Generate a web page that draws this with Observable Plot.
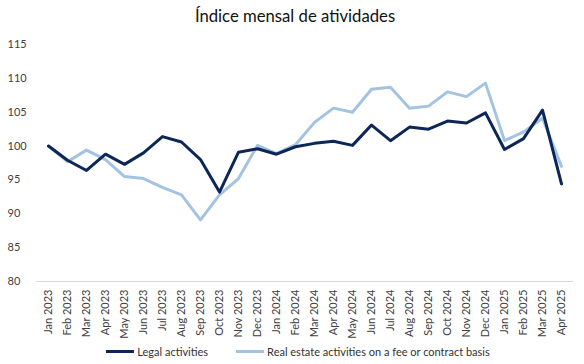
<!DOCTYPE html>
<html>
<head>
<meta charset="utf-8">
<script src="https://cdn.jsdelivr.net/npm/d3@7"></script>
<script src="https://cdn.jsdelivr.net/npm/@observablehq/plot@0.6"></script>
<style>
  body { margin: 0; background: #fff; font-family: Lato, "Noto Sans", sans-serif; }
  #wrap { width: 584px; height: 364px; position: relative; }
  #title { height: 30px; line-height: 32px; text-align: center; font-size: 16.7px; color: #111; padding-left: 6px; }
  #legend { position: absolute; top: 345px; left: 0; width: 584px; display: flex; justify-content: center; gap: 28px; font-size: 11px; color: #333; padding-left: 6px; }
  .item { display: flex; align-items: center; }
  .sw { display: inline-block; width: 28px; height: 3px; margin-right: 3px; }
</style>
</head>
<body>
<div id="wrap">
  <div id="title">Índice mensal de atividades</div>
  <div id="chart"></div>
  <div id="legend"></div>
</div>
<script>
const months = ["Jan 2023","Feb 2023","Mar 2023","Apr 2023","May 2023","Jun 2023","Jul 2023","Aug 2023","Sep 2023","Oct 2023","Nov 2023","Dec 2023",
  "Jan 2024","Feb 2024","Mar 2024","Apr 2024","May 2024","Jun 2024","Jul 2024","Aug 2024","Sep 2024","Oct 2024","Nov 2024","Dec 2024",
  "Jan 2025","Feb 2025","Mar 2025","Apr 2025"];
const legal = [100.0, 97.9, 96.4, 98.8, 97.3, 99.0, 101.4, 100.6, 98.0, 93.2, 99.1, 99.6,
  98.8, 99.9, 100.4, 100.7, 100.1, 103.1, 100.8, 102.8, 102.5, 103.7, 103.4, 104.9,
  99.5, 101.1, 105.3, 94.4];
const realEstate = [100.0, 97.7, 99.4, 98.0, 95.5, 95.2, 93.9, 92.8, 89.1, 92.8, 95.2, 100.1,
  98.9, 100.2, 103.5, 105.6, 105.0, 108.4, 108.7, 105.6, 105.9, 108.0, 107.3, 109.3,
  100.8, 102.1, 104.1, 97.0];
const yTicks = [80, 85, 90, 95, 100, 105, 110, 115];
const seriesNames = ["Legal activities", "Real estate activities on a fee or contract basis"];
const colors = ["#0c2657", "#a4c3e3"];

const rows = [];
months.forEach((m, i) => {
  rows.push({month: m, value: legal[i], series: seriesNames[0]});
  rows.push({month: m, value: realEstate[i], series: seriesNames[1]});
});

const chart = Plot.plot({
  width: 584,
  height: 308,
  marginTop: 14,
  marginBottom: 57,
  marginLeft: 36,
  marginRight: 11,
  style: {fontFamily: "Lato, 'Noto Sans', sans-serif", fontSize: "11px", color: "#404040", background: "#fff"},
  x: {type: "point", domain: months, padding: 0.5, label: null},
  y: {domain: [80, 115], ticks: yTicks, label: null},
  color: {domain: seriesNames, range: colors},
  marks: [
    Plot.ruleY([80], {stroke: "#d9d9d9", strokeWidth: 1}),
    Plot.axisY({ticks: yTicks, tickSize: 0, tickPadding: 29, textAnchor: "start", fill: "#404040", fontSize: 11}),
    Plot.axisX({tickSize: 0, tickRotate: -90, tickPadding: 8, fill: "#404040", fontSize: 11}),
    Plot.line(rows.filter(d => d.series === seriesNames[1]), {x: "month", y: "value", stroke: "series", strokeWidth: 3, strokeLinejoin: "round"}),
    Plot.line(rows.filter(d => d.series === seriesNames[0]), {x: "month", y: "value", stroke: "series", strokeWidth: 3, strokeLinejoin: "round"})
  ]
});
document.getElementById("chart").appendChild(chart);

const legend = document.getElementById("legend");
seriesNames.forEach((n, i) => {
  const it = document.createElement("div");
  it.className = "item";
  const sw = document.createElement("span");
  sw.className = "sw";
  sw.style.background = colors[i];
  const t = document.createElement("span");
  t.textContent = n;
  it.appendChild(sw); it.appendChild(t);
  legend.appendChild(it);
});
</script>
</body>
</html>
